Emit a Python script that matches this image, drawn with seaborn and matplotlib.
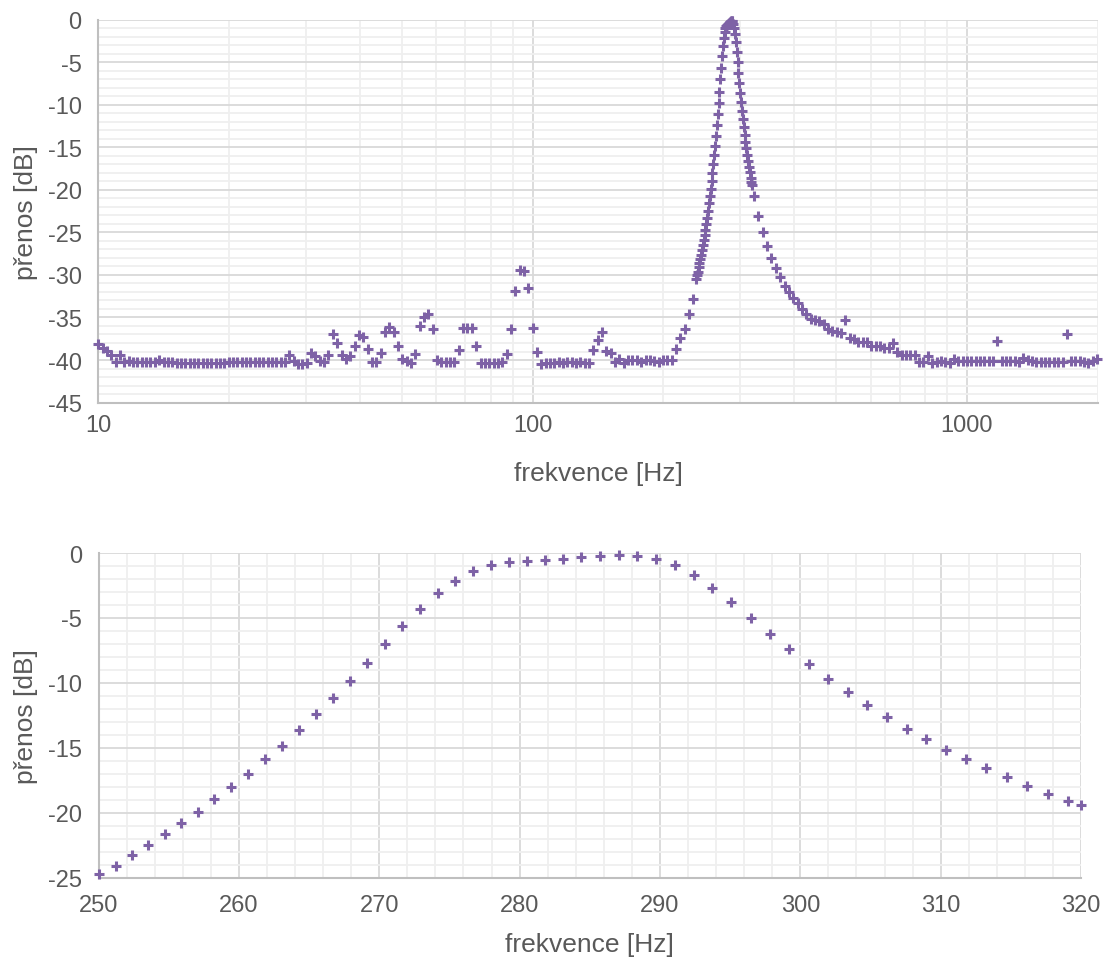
import matplotlib
matplotlib.use('Agg')
import matplotlib.pyplot as plt
import matplotlib.ticker as mticker
import pandas as pd
import seaborn as sns

# coarse sweep, 10 Hz - 234 Hz
coarse_freq_lo = [10.0, 10.23, 10.47, 10.72, 10.96, 11.22, 11.48, 11.75, 12.02, 12.3,
                  12.59, 12.88, 13.18, 13.49, 13.8, 14.13, 14.45, 14.79, 15.14, 15.49,
                  15.85, 16.22, 16.6, 16.98, 17.38, 17.78, 18.2, 18.62, 19.05, 19.5,
                  19.95, 20.42, 20.89, 21.38, 21.88, 22.39, 22.91, 23.44, 23.99, 24.55,
                  25.12, 25.7, 26.3, 26.92, 27.54, 28.18, 28.84, 29.51, 30.2, 30.9,
                  31.62, 32.36, 33.11, 33.88, 34.67, 35.48, 36.31, 37.15, 38.02, 38.9,
                  39.81, 40.74, 41.69, 42.66, 43.65, 44.67, 45.71, 46.77, 47.86, 48.98,
                  50.12, 51.29, 52.48, 53.7, 54.95, 56.23, 57.54, 58.88, 60.26, 61.66,
                  63.1, 64.57, 66.07, 67.61, 69.18, 70.79, 72.44, 74.13, 75.86, 77.62,
                  79.43, 81.28, 83.18, 85.11, 87.1, 89.13, 91.2, 93.33, 95.5, 97.72,
                  100, 102.3, 104.7, 107.2, 109.6, 112.2, 114.8, 117.5, 120.2, 123,
                  125.9, 128.8, 131.8, 134.9, 138, 141.3, 144.5, 147.9, 151.4, 154.9,
                  158.5, 162.2, 166, 169.8, 173.8, 177.8, 182, 186.2, 190.5, 195,
                  199.5, 204.2, 208.9, 213.8, 218.8, 223.9, 229.1, 234.4]
coarse_db_lo = [-38.1, -38.6, -38.9, -39.4, -40.2, -39.4, -40.2, -40.1, -40.2, -40.2,
                -40.2, -40.2, -40.25, -40.2, -39.95, -40.2, -40.2, -40.25, -40.35, -40.3,
                -40.3, -40.3, -40.3, -40.35, -40.35, -40.35, -40.35, -40.35, -40.3, -40.3,
                -40.2, -40.2, -40.2, -40.2, -40.25, -40.25, -40.2, -40.2, -40.2, -40.25,
                -40.25, -40.25, -40.25, -40.2, -39.4, -40.1, -40.5, -40.5, -40.35, -39.2,
                -39.5, -40.15, -40.26, -39.4, -36.9, -38.05, -39.4, -39.9, -39.5, -38.4,
                -37.05, -37.3, -38.75, -40.26, -40.26, -39.2, -36.75, -36.15, -36.7, -38.4,
                -39.85, -40.15, -40.4, -39.35, -36.05, -34.9, -34.6, -36.35, -40.0, -40.25,
                -40.25, -40.25, -40.25, -38.8, -36.2, -36.2, -36.2, -38.4, -40.3, -40.3,
                -40.3, -40.3, -40.3, -40.2, -39.3, -36.3, -31.85, -29.4, -29.5, -31.5,
                -36.2, -39.1, -40.45, -40.3, -40.3, -40.3, -40.25, -40.3, -40.25, -40.2,
                -40.3, -40.25, -40.3, -40.3, -38.8, -37.6, -36.7, -38.97, -39.17, -40.26,
                -39.9, -40.3, -39.95, -40.05, -40.05, -40.25, -40.05, -40.0, -40.15, -40.2,
                -40.05, -39.95, -39.95, -38.7, -37.4, -36.35, -34.65, -32.8]

# coarse sweep, 324 Hz - 2 kHz
coarse_freq_hi = [323.6, 331.1, 338.8, 346.7, 354.8, 363.1, 371.5, 380.2, 389, 398.1,
                  407.4, 416.9, 426.6, 436.5, 446.7, 457.1, 467.7, 478.6, 489.8, 501.2,
                  512.9, 524.8, 537, 549.5, 562.3, 575.4, 588.8, 602.6, 616.6, 631,
                  645.7, 660.7, 676.1, 691.8, 707.9, 724.4, 741.3, 758.6, 776.2, 794.3,
                  812.8, 831.8, 851.1, 871, 891.3, 912, 933.3, 955, 977.2,
                  1000, 1023, 1047, 1072, 1096, 1122, 1148, 1175, 1202, 1230,
                  1259, 1288, 1318, 1349, 1380, 1413, 1445, 1479, 1514, 1549,
                  1585, 1622, 1660, 1698, 1738, 1778, 1820, 1862, 1905, 1950, 1995]
coarse_db_hi = [-20.7, -23.1, -25.0, -26.6, -28.0, -29.2, -30.3, -31.3, -32.0, -32.7,
                -33.3, -34.0, -34.65, -35.15, -35.3, -35.4, -35.8, -36.35, -36.6, -36.7,
                -36.85, -35.25, -37.4, -37.5, -37.9, -37.9, -37.85, -38.4, -38.4, -38.4,
                -38.6, -38.6, -38.0, -39.0, -39.4, -39.4, -39.4, -39.4, -40.2, -40.2,
                -39.55, -40.35, -40.2, -40.1, -40.2, -40.35, -39.9, -40.15, -40.15,
                -40.15, -40.15, -40.15, -40.15, -40.15, -40.15, -40.15, -37.8, -40.1, -40.1,
                -40.1, -40.15, -40.2, -39.8, -40.0, -40.1, -40.26, -40.26, -40.26, -40.26,
                -40.26, -40.26, -40.26, -36.9, -40.15, -40.15, -40.15, -40.26, -40.35, -40.1, -39.9]

# fine sweep below 250 Hz (only visible in the upper chart)
fine_freq_pre = [237.7, 238.8, 239.9, 241.0, 242.1, 243.2, 244.3, 245.5, 246.6, 247.7, 248.9]
fine_db_pre = [-30.45, -30.05, -29.6, -29.1, -28.6, -28.1, -27.6, -27.05, -26.5, -25.95, -25.35]

# fine sweep 250 - 320 Hz
fine_freq = [250.06, 251.22, 252.38, 253.54, 254.73, 255.89, 257.06, 258.24, 259.45, 260.66,
             261.85, 263.04, 264.25, 265.48, 266.71, 267.95, 269.16, 270.39, 271.65, 272.9,
             274.16, 275.42, 276.7, 277.99, 279.24, 280.55, 281.83, 283.11, 284.41, 285.74,
             287.07, 288.38, 289.73, 291.05, 292.43, 293.74, 295.09, 296.46, 297.82, 299.2,
             300.59, 301.97, 303.37, 304.77, 306.17, 307.6, 308.99, 310.39, 311.84, 313.26,
             314.71, 316.18, 317.63, 319.07, 319.98]
fine_db = [-24.71, -24.07, -23.25, -22.48, -21.6, -20.78, -19.91, -18.94, -17.99, -16.99,
           -15.88, -14.86, -13.65, -12.42, -11.14, -9.83, -8.47, -7.0, -5.64, -4.28,
           -3.08, -2.13, -1.39, -0.95, -0.72, -0.59, -0.54, -0.44, -0.33, -0.2,
           -0.15, -0.2, -0.46, -0.92, -1.69, -2.67, -3.77, -5.0, -6.26, -7.41,
           -8.57, -9.67, -10.73, -11.7, -12.65, -13.52, -14.32, -15.14, -15.86, -16.57,
           -17.27, -17.91, -18.55, -19.1, -19.4]

top_df = pd.DataFrame({
    'f': coarse_freq_lo + fine_freq_pre + fine_freq + coarse_freq_hi,
    'db': coarse_db_lo + fine_db_pre + fine_db + coarse_db_hi,
})
bottom_df = pd.DataFrame({'f': fine_freq, 'db': fine_db})

sns.set_theme(style='white')
plt.rcParams['font.family'] = ['Liberation Sans', 'DejaVu Sans']
plt.rcParams['axes.unicode_minus'] = False

purple = '#7E62A6'
grey_txt = '#595959'

fig = plt.figure(figsize=(11.06, 9.62), dpi=100)
ax1 = fig.add_axes([0.0889, 0.5805, 0.9039, 0.398])
ax2 = fig.add_axes([0.0891, 0.0866, 0.8883, 0.3375])

fmt = mticker.FuncFormatter(lambda v, p: f'{v:g}')

for ax, df in [(ax1, top_df), (ax2, bottom_df)]:
    sns.scatterplot(data=df, x='f', y='db', marker='+', s=55, linewidth=2.2,
                    color=purple, ax=ax, clip_on=False, zorder=3)
    ax.set_axisbelow(True)
    ax.grid(which='major', color='#d9d9d9', lw=1.3)
    ax.grid(which='minor', color='#efefef', lw=1.3)
    for s in ['top', 'right']:
        ax.spines[s].set_visible(False)
    for s in ['left', 'bottom']:
        ax.spines[s].set_color('#bfbfbf')
        ax.spines[s].set_linewidth(1.5)
    ax.tick_params(which='both', length=0, labelsize=17, colors=grey_txt)
    ax.tick_params(axis='y', pad=12)
    ax.yaxis.set_major_locator(mticker.MultipleLocator(5))
    ax.yaxis.set_minor_locator(mticker.MultipleLocator(1))
    ax.yaxis.set_major_formatter(fmt)
    ax.set_xlabel('frekvence [Hz]', fontsize=19, color=grey_txt)
    ax.set_ylabel('přenos [dB]', fontsize=19, color=grey_txt, labelpad=7)

ax1.set_xscale('log')
ax1.set_xlim(10, 2004)
ax1.set_ylim(-45, 0)
ax1.xaxis.set_major_locator(mticker.FixedLocator([10, 100, 1000]))
ax1.xaxis.set_minor_locator(mticker.LogLocator(subs=range(2, 10)))
ax1.xaxis.set_major_formatter(fmt)
ax1.xaxis.set_minor_formatter(mticker.NullFormatter())
ax1.tick_params(axis='x', pad=8)
ax1.xaxis.labelpad = 18

ax2.set_xlim(250, 320)
ax2.set_ylim(-25, 0)
ax2.xaxis.set_major_locator(mticker.MultipleLocator(10))
ax2.xaxis.set_minor_locator(mticker.MultipleLocator(2))
ax2.xaxis.set_major_formatter(fmt)
ax2.tick_params(axis='x', pad=12)
ax2.xaxis.labelpad = 11

fig.savefig('out.png', dpi=100)
